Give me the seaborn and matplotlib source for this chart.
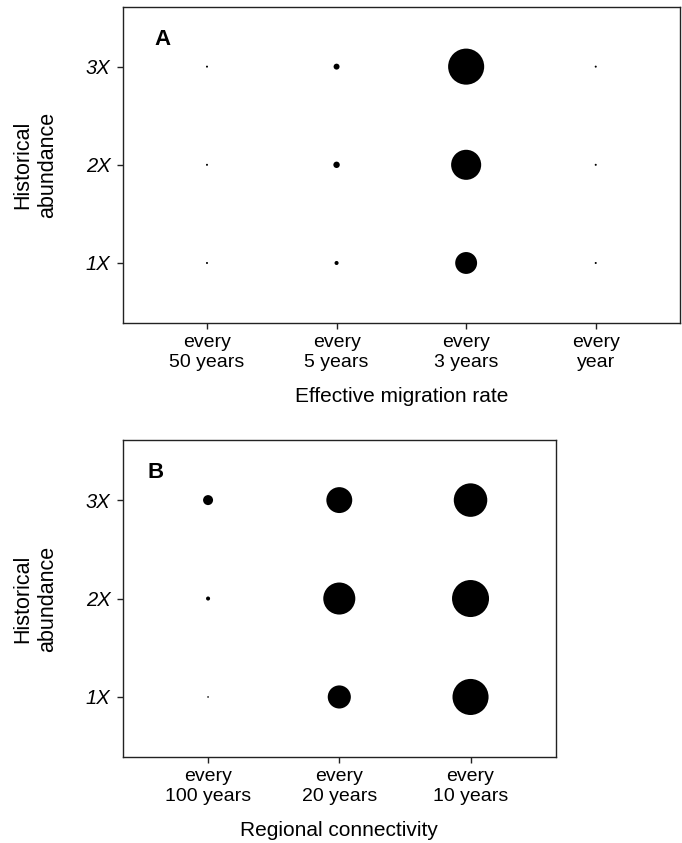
import numpy as np
import pandas as pd
import matplotlib
matplotlib.use("Agg")
from matplotlib import pyplot as plt
import seaborn as sns

# Panel A: effective migration rate x historical abundance
mig_labels = ["every\n50 years", "every\n5 years", "every\n3 years", "every\nyear"]
abund_labels = ["1X", "2X", "3X"]
# relative values (marker area), rows = 1X, 2X, 3X
mig_vals = [
    [0.003, 0.012, 0.35, 0.003],
    [0.003, 0.030, 0.66, 0.003],
    [0.003, 0.026, 0.95, 0.003],
]

# Panel B: regional connectivity x historical abundance
con_labels = ["every\n100 years", "every\n20 years", "every\n10 years"]
con_vals = [
    [0.002, 0.39, 0.95],
    [0.012, 0.75, 1.00],
    [0.073, 0.49, 0.82],
]

sns.set_style("white")
plt.rcParams['font.family'] = ['Liberation Sans', 'DejaVu Sans']
plt.rcParams['text.color'] = 'black'
plt.rcParams['axes.labelcolor'] = 'black'
plt.rcParams['xtick.color'] = 'black'
plt.rcParams['ytick.color'] = 'black'


def to_frame(vals):
    rows = []
    for i, row in enumerate(vals):
        for j, v in enumerate(row):
            rows.append({'x': j, 'y': i, 'val': v})
    return pd.DataFrame(rows)


def panel(ax, vals, xlabels, xlabel, letter):
    df = to_frame(vals)
    sns.scatterplot(data=df, x='x', y='y', size='val', sizes=(0, 710),
                    size_norm=(0, 1), color='black', linewidth=0,
                    legend=False, ax=ax)
    n = len(xlabels)
    ax.set_xlim(-0.65, n - 1 + 0.65)
    ax.set_ylim(-0.61, 2.61)
    ax.set_xticks(range(n))
    ax.set_xticklabels(xlabels, fontsize=14, linespacing=1.25)
    ax.set_yticks(range(len(abund_labels)))
    ax.set_yticklabels(abund_labels, fontsize=14.5, fontstyle='italic')
    ax.tick_params(axis='both', which='both', direction='out', length=4,
                   width=1, color='#222222', left=True, bottom=True)
    ax.tick_params(axis='x', pad=4)
    ax.tick_params(axis='y', pad=5)
    for sp in ax.spines.values():
        sp.set_visible(True)
        sp.set_color('#222222')
        sp.set_linewidth(1)
    ax.set_xlabel(xlabel, fontsize=15, labelpad=11)
    ax.set_ylabel("Historical\nabundance", fontsize=15.5, labelpad=20,
                  linespacing=1.25)
    ax.text(0.057, 0.93, letter, transform=ax.transAxes, fontsize=16,
            fontweight='bold', va='top', ha='left')


fig = plt.figure(figsize=(6.82, 8.43), dpi=100)
ax1 = fig.add_axes([0.180, 0.617, 0.817, 0.375])
ax2 = fig.add_axes([0.180, 0.102, 0.635, 0.376])

panel(ax1, mig_vals, mig_labels, "Effective migration rate", "A")
panel(ax2, con_vals, con_labels, "Regional connectivity", "B")

fig.savefig("out.png", dpi=100, facecolor='white')
